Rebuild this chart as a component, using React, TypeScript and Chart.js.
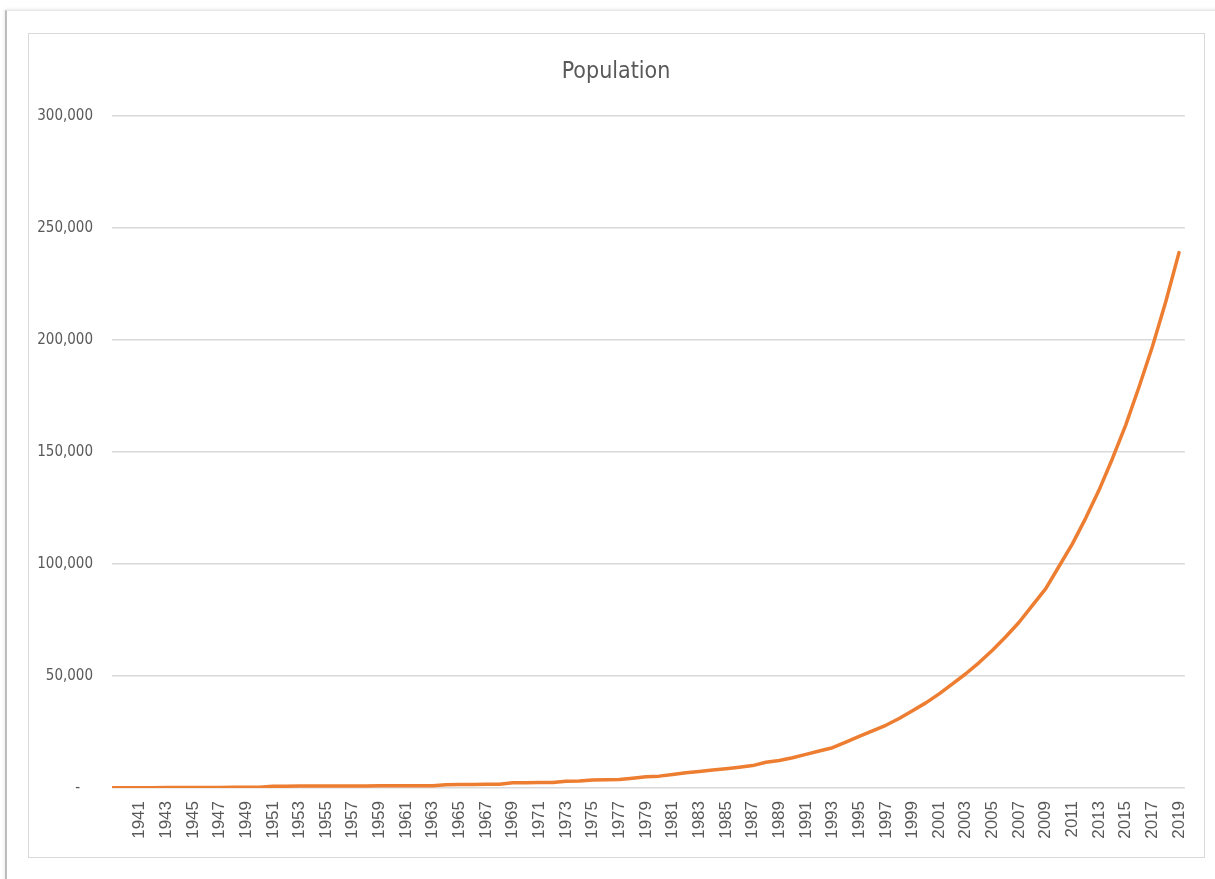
import React, { useEffect, useRef } from "react";
import { Chart, registerables } from "chart.js";

Chart.register(...registerables);

// Data
const years: number[] = [
  1939, 1940, 1941, 1942, 1943, 1944, 1945, 1946, 1947, 1948,
  1949, 1950, 1951, 1952, 1953, 1954, 1955, 1956, 1957, 1958,
  1959, 1960, 1961, 1962, 1963, 1964, 1965, 1966, 1967, 1968,
  1969, 1970, 1971, 1972, 1973, 1974, 1975, 1976, 1977, 1978,
  1979, 1980, 1981, 1982, 1983, 1984, 1985, 1986, 1987, 1988,
  1989, 1990, 1991, 1992, 1993, 1994, 1995, 1996, 1997, 1998,
  1999, 2000, 2001, 2002, 2003, 2004, 2005, 2006, 2007, 2008,
  2009, 2010, 2011, 2012, 2013, 2014, 2015, 2016, 2017, 2018,
  2019,
];

const population: number[] = [
  100, 120, 150, 160, 180, 200, 220, 240, 260, 280,
  300, 320, 800, 820, 840, 860, 880, 900, 920, 940,
  960, 980, 1000, 1020, 1050, 1500, 1550, 1600, 1650, 1700,
  2300, 2350, 2400, 2500, 3000, 3100, 3600, 3700, 3800, 4400,
  5000, 5300, 6000, 6800, 7400, 8000, 8600, 9300, 10000, 11500,
  12300, 13500, 15000, 16500, 18000, 20500, 23000, 25500, 28000, 31000,
  34500, 38000, 42000, 46500, 51000, 56000, 61500, 67500, 74000, 81500,
  89000, 99000, 109000, 120500, 133000, 147000, 162000, 179000, 197000, 217000,
  239000,
];

const yearTickLabels: number[] = [
  1941, 1943, 1945, 1947, 1949, 1951, 1953, 1955, 1957, 1959,
  1961, 1963, 1965, 1967, 1969, 1971, 1973, 1975, 1977, 1979,
  1981, 1983, 1985, 1987, 1989, 1991, 1993, 1995, 1997, 1999,
  2001, 2003, 2005, 2007, 2009, 2011, 2013, 2015, 2017, 2019,
];

const valueTicks: number[] = [0, 50000, 100000, 150000, 200000, 250000, 300000];

const chartTitle = "Population";

const NARROW = "'DejaVu Sans Condensed', 'Liberation Sans Narrow', sans-serif";
const REGULAR = "'Liberation Sans', Arial, sans-serif";
const TEXT = "#595959";
const GRID = "#d9d9d9";

// Title drawn centred over the chart frame (as Excel does), not over the canvas box
const centeredTitle = {
  id: "centeredTitle",
  afterDraw(chart: any) {
    const ctx = chart.ctx;
    ctx.save();
    ctx.font = `normal 23px ${NARROW}`;
    ctx.fillStyle = TEXT;
    ctx.textAlign = "center";
    ctx.textBaseline = "middle";
    ctx.fillText(chartTitle, 616, 72);
    ctx.restore();
  },
};

export default function App() {
  const ref = useRef<HTMLCanvasElement | null>(null);

  useEffect(() => {
    if (!ref.current) return;
    const chart = new Chart(ref.current, {
      type: "line",
      data: {
        datasets: [
          {
            label: chartTitle,
            data: years.map((y, i) => ({ x: y, y: population[i] })),
            borderColor: "#ED7D31",
            backgroundColor: "#ED7D31",
            borderWidth: 3.5,
            pointRadius: 0,
            tension: 0,
            borderCapStyle: "round",
            borderJoinStyle: "round",
          },
        ],
      },
      plugins: [centeredTitle],
      options: {
        responsive: false,
        animation: false,
        layout: { padding: { left: 0, right: 30, top: 116, bottom: 0 } },
        plugins: {
          legend: { display: false },
          tooltip: { enabled: false },
          title: { display: false },
        },
        scales: {
          x: {
            type: "linear",
            min: 1938.93,
            max: 2019.45,
            grid: { display: false, drawTicks: false },
            border: { display: false },
            afterBuildTicks: (scale: any) => {
              scale.ticks = yearTickLabels.map((v) => ({ value: v }));
            },
            afterFit: (scale: any) => {
              scale.height = 91;
            },
            ticks: {
              autoSkip: false,
              minRotation: 90,
              maxRotation: 90,
              padding: 13,
              color: TEXT,
              font: { family: REGULAR, size: 17 },
              callback: (v: any) => String(v),
            },
          },
          y: {
            min: 0,
            max: 300000,
            grid: { color: GRID, lineWidth: 1.5, drawTicks: false },
            border: { display: false },
            afterBuildTicks: (scale: any) => {
              scale.ticks = valueTicks.map((v) => ({ value: v }));
            },
            afterFit: (scale: any) => {
              scale.width = 112;
            },
            ticks: {
              padding: 19,
              color: TEXT,
              font: { family: NARROW, size: 15 },
              callback: (v: any) => (v === 0 ? "-   " : Number(v).toLocaleString("en-US")),
            },
          },
        },
      },
    } as any);
    return () => chart.destroy();
  }, []);

  return (
    <div style={{ position: "fixed", left: 0, top: 0, width: 1215, height: 879, background: "#ffffff", overflow: "hidden" }}>
      <div
        style={{
          position: "absolute",
          left: 5,
          top: 10,
          width: 1215,
          height: 879,
          borderLeft: "2px solid #bdbdbd",
          borderTop: "1px solid #e6e6e6",
          boxShadow: "-1px -1px 3px rgba(0,0,0,0.08)",
        }}
      />
      <div
        style={{
          position: "absolute",
          left: 28,
          top: 33,
          width: 1175,
          height: 823,
          border: "1px solid #d9d9d9",
        }}
      />
      <canvas
        ref={ref}
        width={1215}
        height={879}
        style={{ position: "absolute", left: 0, top: 0, width: 1215, height: 879 }}
      />
    </div>
  );
}
